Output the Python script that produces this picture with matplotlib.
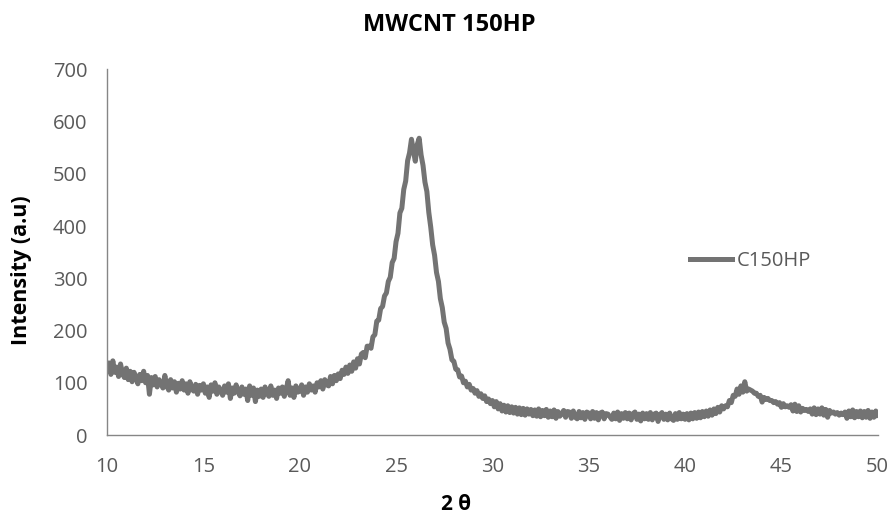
import matplotlib
matplotlib.use("Agg")
import matplotlib.pyplot as plt
import numpy as np

# 2-theta grid (0.1 deg steps) and intensities
two_theta = np.round(np.arange(10.0, 50.01, 0.1), 1)
intensity = [
    125, 138, 116, 142, 120, 130, 112, 136, 118, 110,
    128, 106, 122, 102, 120, 110, 98, 116, 104, 122,
    100, 114, 78, 110, 96, 112, 92, 106, 98, 90,
    114, 94, 86, 106, 90, 102, 82, 99, 88, 104,
    86, 98, 80, 102, 88, 84, 97, 78, 95, 86,
    98, 80, 92, 72, 96, 84, 100, 78, 92, 85,
    76, 94, 82, 98, 70, 90, 80, 96, 83, 75,
    92, 78, 88, 66, 94, 76, 90, 64, 86, 74,
    88, 72, 92, 80, 74, 94, 76, 86, 70, 90,
    80, 92, 74, 88, 104, 76, 90, 72, 94, 82,
    84, 96, 76, 92, 82, 98, 86, 94, 82, 100,
    92, 104, 88, 106, 96, 94, 112, 98, 114, 104,
    117, 108, 124, 116, 130, 118, 134, 122, 140, 128,
    146, 136, 155, 158, 148, 170, 170, 166, 188, 192,
    218, 220, 242, 246, 266, 272, 294, 302, 330, 338,
    370, 386, 425, 434, 470, 486, 525, 540, 566, 544,
    524, 556, 568, 536, 516, 484, 466, 426, 398, 364,
    344, 311, 294, 261, 244, 216, 204, 176, 164, 144,
    141, 126, 125, 111, 113, 100, 103, 92, 97, 86,
    89, 80, 85, 74, 79, 70, 75, 64, 69, 60,
    66, 54, 64, 50, 60, 46, 57, 44, 56, 43,
    54, 42, 53, 40, 52, 39, 51, 38, 50, 40,
    49, 37, 48, 36, 50, 35, 47, 37, 49, 34,
    46, 35, 48, 32, 45, 36, 41, 47, 34, 45,
    44, 32, 46, 34, 31, 45, 33, 43, 30, 44,
    42, 31, 45, 32, 43, 29, 42, 44, 31, 41,
    40, 35, 30, 42, 31, 44, 28, 41, 32, 43,
    31, 42, 29, 41, 44, 30, 40, 27, 42, 31,
    41, 30, 43, 29, 40, 42, 26, 39, 43, 30,
    40, 29, 42, 31, 28, 41, 30, 43, 31, 40,
    30, 41, 29, 42, 31, 43, 32, 44, 33, 45,
    35, 46, 36, 48, 38, 50, 41, 53, 44, 56,
    50, 56, 54, 66, 62, 76, 74, 88, 78, 94,
    82, 102, 84, 88, 86, 84, 80, 80, 74, 76,
    63, 72, 68, 70, 66, 66, 62, 64, 59, 62,
    53, 60, 54, 56, 53, 58, 46, 59, 45, 56,
    44, 51, 47, 49, 45, 50, 40, 52, 39, 50,
    40, 52, 38, 49, 34, 47, 42, 44, 40, 43,
    38, 42, 39, 44, 32, 46, 35, 48, 33, 45,
    35, 46, 33, 45, 34, 47, 32, 44, 34, 46,
    38,
]
series_name = "C150HP"
x_ticks = [10, 15, 20, 25, 30, 35, 40, 45, 50]
y_ticks = [0, 100, 200, 300, 400, 500, 600, 700]

plt.rcParams['font.family'] = ['Open Sans', 'DejaVu Sans']

fig = plt.figure(figsize=(8.92, 5.13), dpi=100)
ax = fig.add_axes([0.120, 0.152, 0.864, 0.713])

ax.plot(two_theta, intensity, color='#737373', linewidth=3.6, label=series_name)

ax.set_xlim(10, 50)
ax.set_ylim(0, 700)
ax.set_xticks(x_ticks)
ax.set_yticks(y_ticks)
ax.tick_params(length=0, labelsize=14.5, labelcolor='#595959')
ax.tick_params(axis='y', pad=14)
ax.tick_params(axis='x', pad=16)

for side in ['top', 'right']:
    ax.spines[side].set_visible(False)
for side in ['left', 'bottom']:
    ax.spines[side].set_color('#868686')
    ax.spines[side].set_linewidth(1)

ax.set_xlabel('2 θ', fontsize=15, fontweight='bold')
ax.xaxis.set_label_coords(0.453, -0.160)
ax.set_ylabel('Intensity (a.u)', fontsize=15.5, fontweight='bold')
ax.yaxis.set_label_coords(-0.098, 0.451)

fig.text(449 / 892, 1 - 25 / 513, 'MWCNT 150HP', ha='center', va='center',
         fontsize=17, fontweight='bold')

ax.legend(loc='center left', bbox_to_anchor=(0.756, 0.475), frameon=False,
          fontsize=14.5, handlelength=2.1, handletextpad=0.25,
          borderpad=0, borderaxespad=0, labelcolor='#595959')

fig.savefig('out.png', dpi=100)
